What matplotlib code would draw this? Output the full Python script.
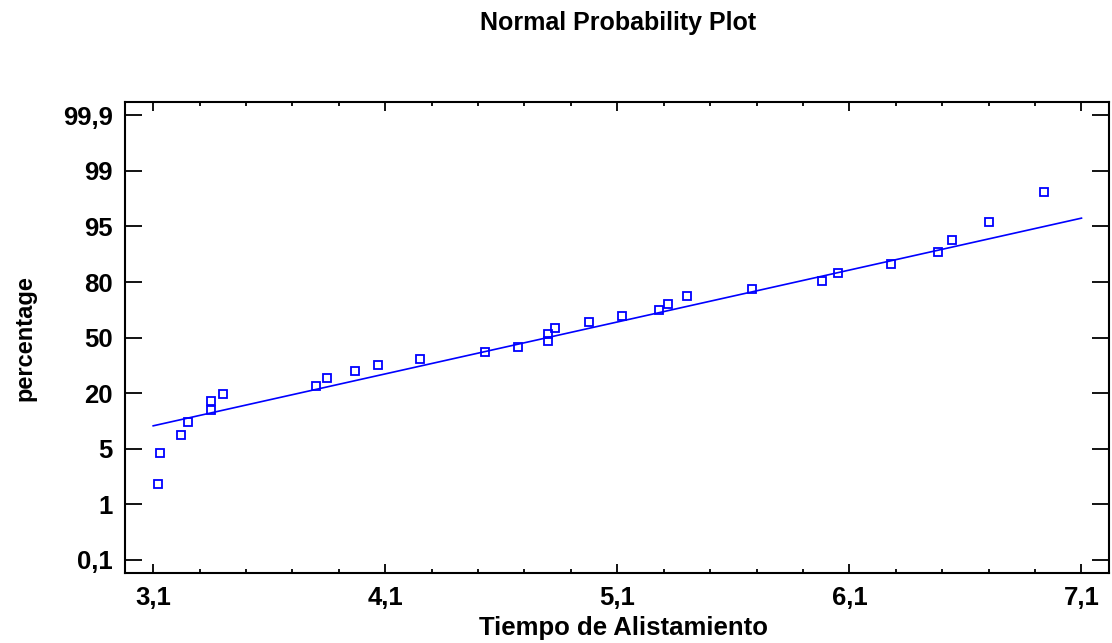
import matplotlib
matplotlib.use("Agg")
import matplotlib.pyplot as plt
import numpy as np

# tiempo de alistamiento (x) and plotted percentage (y)
tiempo = [3.12, 3.13, 3.22, 3.25, 3.35, 3.35, 3.40, 3.80, 3.85, 3.97,
          4.07, 4.25, 4.53, 4.67, 4.80, 4.80, 4.83, 4.98, 5.12, 5.28,
          5.32, 5.40, 5.68, 5.98, 6.05, 6.28, 6.48, 6.54, 6.70, 6.94]
percentage = [2.5, 4.7, 8.7, 12.2, 15.4, 17.8, 19.9, 23.9, 28.0, 32.1,
              35.4, 38.6, 42.1, 45.1, 48.4, 52.0, 55.2, 58.4, 61.7, 64.9,
              68.3, 72.4, 76.4, 80.3, 82.4, 84.8, 88.1, 91.3, 95.3, 97.5]

# fitted reference line
fit_x = [3.1, 7.1]
fit_y = [11.2, 95.6]

y_ticks = [0.1, 1, 5, 20, 50, 80, 95, 99, 99.9]
y_labels = ["0,1", "1", "5", "20", "50", "80", "95", "99", "99,9"]
x_ticks = [3.1, 4.1, 5.1, 6.1, 7.1]
x_labels = ["3,1", "4,1", "5,1", "6,1", "7,1"]

tick_idx = np.arange(len(y_ticks), dtype=float)


def fwd(p):
    p = np.asarray(p, dtype=float)
    out = np.interp(p, y_ticks, tick_idx)
    lo = p < y_ticks[0]
    hi = p > y_ticks[-1]
    out[lo] = (p[lo] - y_ticks[0]) / (y_ticks[1] - y_ticks[0])
    out[hi] = 8 + (p[hi] - y_ticks[-1]) / (y_ticks[-1] - y_ticks[-2])
    return out


def inv(i):
    i = np.asarray(i, dtype=float)
    out = np.interp(i, tick_idx, y_ticks)
    lo = i < 0
    hi = i > 8
    out[lo] = y_ticks[0] + i[lo] * (y_ticks[1] - y_ticks[0])
    out[hi] = y_ticks[-1] + (i[hi] - 8) * (y_ticks[-1] - y_ticks[-2])
    return out


plt.rcParams['font.family'] = ['Liberation Sans', 'DejaVu Sans']
plt.rcParams['font.weight'] = 'bold'

fig = plt.figure(figsize=(11.12, 6.43), dpi=100)
ax = fig.add_axes([0.1127, 0.1084, 0.8849, 0.733])

ax.set_yscale('function', functions=(fwd, inv))
ax.plot(fit_x, fit_y, color='#0000ff', lw=1.2)
ax.plot(tiempo, percentage, ls='none', marker='s', ms=6, mfc='none',
        mec='#0000ff', mew=1.3)

ax.set_xlim(2.98, 7.22)
ax.set_ylim(inv([-0.24])[0], inv([8.24])[0])

ax.set_xticks(x_ticks)
ax.set_xticklabels(x_labels)
ax.set_xticks(np.arange(3.1, 7.15, 0.2), minor=True)
ax.set_yticks(y_ticks)
ax.set_yticklabels(y_labels)
ax.yaxis.set_minor_locator(matplotlib.ticker.NullLocator())

ax.tick_params(axis='both', which='both', direction='in', top=True, right=True,
               labelsize=18.5, width=1.3, colors='black')
ax.tick_params(axis='x', which='major', length=6.5, pad=9)
ax.tick_params(axis='x', which='minor', length=3.2)
ax.tick_params(axis='y', which='major', length=12.5, pad=9)
for s in ax.spines.values():
    s.set_linewidth(1.5)

ax.set_xlabel("Tiempo de Alistamiento", fontsize=18.5, fontweight='bold', va='center')
ax.xaxis.set_label_coords(0.5065, -0.116)
ax.set_ylabel("percentage", fontsize=17, fontweight='bold', va='center')
ax.yaxis.set_label_coords(-0.102, 0.5)
fig.text(0.556, 0.964, "Normal Probability Plot", fontsize=18, fontweight='bold',
         ha='center', va='center')

fig.savefig("out.png", dpi=100)
